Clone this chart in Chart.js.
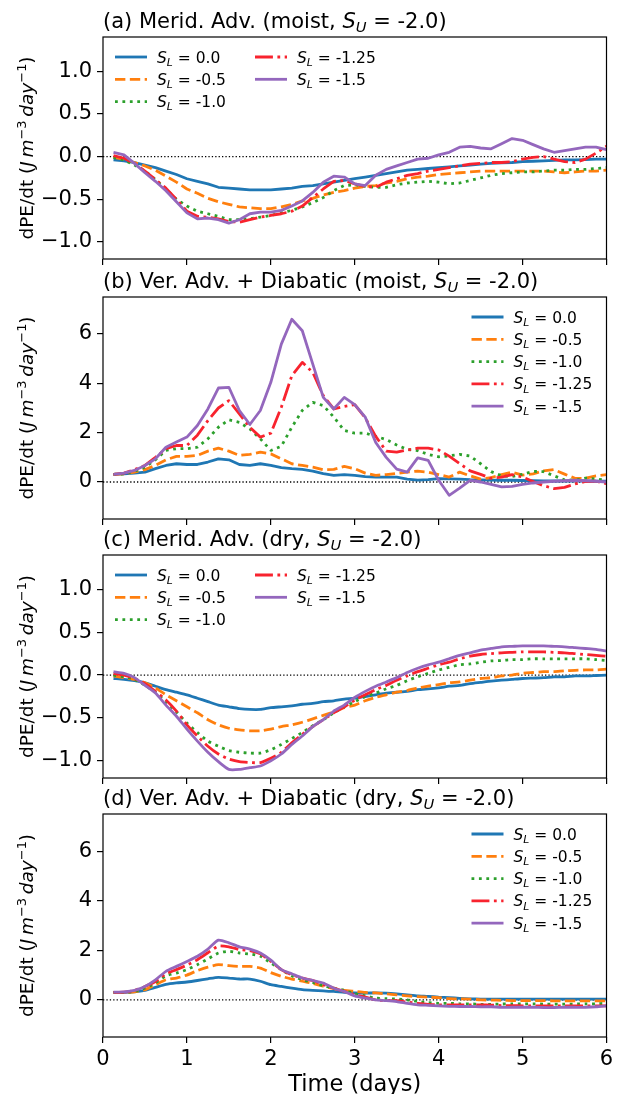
<!DOCTYPE html>
<html>
<head>
<meta charset="utf-8">
<script src="https://cdn.jsdelivr.net/npm/chart.js@4.4.1/dist/chart.umd.min.js"></script>
<style>
  html, body { margin: 0; padding: 0; background: #fff; }
  #fig { position: relative; width: 621px; height: 1094px; overflow: hidden; }
  #fig canvas { position: absolute; left: 0; }
</style>
</head>
<body>
<div id="fig"></div>
<script>
// time axis (days), 3-hourly output
const days = [0.125, 0.25, 0.375, 0.5, 0.625, 0.75, 0.875, 1, 1.125, 1.25, 1.375, 1.5, 1.625, 1.75, 1.875, 2,
  2.125, 2.25, 2.375, 2.5, 2.625, 2.75, 2.875, 3, 3.125, 3.25, 3.375, 3.5, 3.625, 3.75, 3.875, 4,
  4.125, 4.25, 4.375, 4.5, 4.625, 4.75, 4.875, 5, 5.125, 5.25, 5.375, 5.5, 5.625, 5.75, 5.875, 6];

const slLabels = ['0.0', '-0.5', '-1.0', '-1.25', '-1.5'];

const xTicks = [0, 1, 2, 3, 4, 5, 6];
const meridTicks = [-1.0, -0.5, 0.0, 0.5, 1.0];
const vertTicks = [0, 2, 4, 6];

// (a) meridional advection, moist
const meridMoist00 = [-0.04, -0.05, -0.07, -0.10, -0.13, -0.17, -0.21, -0.26, -0.29, -0.32, -0.36, -0.37, -0.38, -0.39, -0.39, -0.39,
  -0.38, -0.37, -0.35, -0.34, -0.32, -0.30, -0.28, -0.26, -0.24, -0.22, -0.20, -0.18, -0.16, -0.15, -0.14, -0.13,
  -0.12, -0.11, -0.10, -0.09, -0.08, -0.075, -0.07, -0.06, -0.055, -0.05, -0.045, -0.04, -0.04, -0.035, -0.03, -0.03];
const meridMoist05 = [-0.01, -0.03, -0.07, -0.11, -0.16, -0.23, -0.30, -0.38, -0.43, -0.49, -0.53, -0.56, -0.59, -0.60, -0.61, -0.61,
  -0.59, -0.56, -0.52, -0.49, -0.45, -0.42, -0.40, -0.37, -0.35, -0.34, -0.31, -0.29, -0.26, -0.24, -0.23, -0.21,
  -0.20, -0.19, -0.18, -0.17, -0.17, -0.17, -0.17, -0.17, -0.17, -0.17, -0.18, -0.19, -0.18, -0.17, -0.17, -0.16];
const meridMoist10 = [-0.01, -0.04, -0.10, -0.17, -0.27, -0.38, -0.50, -0.58, -0.64, -0.67, -0.70, -0.74, -0.74, -0.73, -0.71, -0.69,
  -0.66, -0.63, -0.59, -0.54, -0.48, -0.40, -0.34, -0.33, -0.35, -0.36, -0.36, -0.33, -0.31, -0.30, -0.29, -0.30,
  -0.32, -0.31, -0.28, -0.25, -0.22, -0.20, -0.19, -0.18, -0.18, -0.17, -0.16, -0.16, -0.15, -0.15, -0.14, -0.13];
const meridMoist125 = [0.01, -0.02, -0.08, -0.17, -0.27, -0.37, -0.50, -0.64, -0.70, -0.71, -0.73, -0.76, -0.77, -0.74, -0.71, -0.69,
  -0.67, -0.64, -0.58, -0.48, -0.38, -0.29, -0.28, -0.32, -0.35, -0.36, -0.30, -0.26, -0.22, -0.20, -0.17, -0.15,
  -0.13, -0.11, -0.09, -0.08, -0.07, -0.07, -0.06, -0.03, -0.01, 0.0, -0.03, -0.06, -0.07, -0.03, 0.04, 0.12];
const meridMoist15 = [0.05, 0.02, -0.08, -0.19, -0.29, -0.40, -0.53, -0.66, -0.73, -0.72, -0.74, -0.78, -0.74, -0.67, -0.65, -0.65,
  -0.63, -0.58, -0.52, -0.42, -0.30, -0.23, -0.24, -0.32, -0.34, -0.22, -0.15, -0.11, -0.07, -0.03, -0.02, 0.02,
  0.05, 0.11, 0.12, 0.10, 0.09, 0.15, 0.21, 0.19, 0.14, 0.09, 0.05, 0.07, 0.09, 0.11, 0.11, 0.08];

// (b) vertical advection + diabatic, moist
const vertMoist00 = [0.31, 0.33, 0.36, 0.40, 0.54, 0.67, 0.74, 0.71, 0.71, 0.81, 0.94, 0.90, 0.71, 0.67, 0.74, 0.67,
  0.58, 0.54, 0.51, 0.44, 0.34, 0.27, 0.30, 0.27, 0.22, 0.20, 0.20, 0.20, 0.12, 0.08, 0.10, 0.14,
  0.13, 0.12, 0.10, 0.09, 0.08, 0.07, 0.07, 0.06, 0.05, 0.04, 0.04, 0.04, 0.04, 0.04, 0.03, 0.03];
const vertMoist05 = [0.31, 0.33, 0.40, 0.50, 0.67, 0.90, 1.04, 1.04, 1.08, 1.25, 1.37, 1.25, 1.08, 1.12, 1.21, 1.14,
  0.94, 0.74, 0.67, 0.60, 0.50, 0.51, 0.63, 0.54, 0.36, 0.27, 0.30, 0.35, 0.40, 0.44, 0.40, 0.30,
  0.20, 0.40, 0.25, 0.12, 0.18, 0.30, 0.40, 0.28, 0.33, 0.45, 0.50, 0.32, 0.15, 0.15, 0.25, 0.30];
const vertMoist10 = [0.31, 0.33, 0.44, 0.60, 0.90, 1.28, 1.35, 1.35, 1.41, 1.75, 2.22, 2.52, 2.42, 2.15, 1.75, 1.28,
  1.45, 2.22, 2.90, 3.23, 3.10, 2.63, 2.09, 1.98, 1.98, 1.85, 1.72, 1.50, 1.32, 1.27, 1.12, 1.02,
  1.06, 1.12, 1.05, 0.74, 0.42, 0.25, 0.22, 0.31, 0.43, 0.42, 0.25, 0.09, 0.07, 0.16, 0.12, 0.07];
const vertMoist125 = [0.31, 0.36, 0.50, 0.67, 1.00, 1.35, 1.48, 1.48, 1.90, 2.49, 3.00, 3.30, 2.76, 2.22, 1.82, 1.98,
  3.03, 4.31, 4.85, 4.44, 3.50, 2.96, 3.06, 3.14, 2.60, 1.85, 1.25, 1.21, 1.30, 1.37, 1.37, 1.30,
  1.05, 0.75, 0.45, 0.31, 0.15, 0.20, 0.30, 0.20, 0.02, -0.15, -0.27, -0.22, -0.08, 0.02, 0.03, -0.07];
const vertMoist15 = [0.31, 0.36, 0.47, 0.67, 0.94, 1.41, 1.62, 1.82, 2.29, 2.96, 3.81, 3.84, 2.90, 2.33, 2.90, 4.04,
  5.59, 6.60, 6.13, 4.78, 3.43, 2.96, 3.43, 3.14, 2.63, 1.60, 1.00, 0.52, 0.40, 0.98, 0.88, 0.07,
  -0.54, -0.25, 0.07, 0.0, -0.10, -0.20, -0.18, -0.10, -0.04, 0.0, 0.03, 0.05, 0.07, 0.05, 0.03, 0.0];

// (c) meridional advection, dry
const meridDry00 = [-0.04, -0.05, -0.065, -0.09, -0.13, -0.17, -0.20, -0.23, -0.27, -0.31, -0.35, -0.37, -0.39, -0.40, -0.40, -0.38,
  -0.37, -0.36, -0.34, -0.33, -0.31, -0.30, -0.28, -0.27, -0.25, -0.23, -0.21, -0.20, -0.19, -0.17, -0.16, -0.15,
  -0.13, -0.12, -0.10, -0.085, -0.07, -0.06, -0.05, -0.04, -0.035, -0.03, -0.02, -0.02, -0.01, -0.01, -0.005, 0.0];
const meridDry05 = [-0.01, -0.03, -0.05, -0.09, -0.15, -0.23, -0.30, -0.37, -0.44, -0.52, -0.58, -0.62, -0.64, -0.65, -0.65, -0.63,
  -0.60, -0.58, -0.55, -0.51, -0.47, -0.43, -0.38, -0.35, -0.30, -0.26, -0.23, -0.20, -0.18, -0.15, -0.13, -0.11,
  -0.09, -0.08, -0.06, -0.04, -0.03, -0.01, 0.0, 0.02, 0.03, 0.04, 0.04, 0.05, 0.055, 0.06, 0.06, 0.07];
const meridDry10 = [0.0, -0.02, -0.05, -0.12, -0.20, -0.31, -0.43, -0.56, -0.67, -0.77, -0.83, -0.88, -0.90, -0.91, -0.91, -0.87,
  -0.81, -0.74, -0.67, -0.59, -0.52, -0.44, -0.37, -0.31, -0.25, -0.21, -0.16, -0.12, -0.065, -0.02, 0.02, 0.06,
  0.09, 0.12, 0.13, 0.15, 0.165, 0.17, 0.18, 0.18, 0.19, 0.19, 0.19, 0.19, 0.19, 0.19, 0.18, 0.17];
const meridDry125 = [0.02, 0.0, -0.04, -0.10, -0.19, -0.29, -0.42, -0.58, -0.71, -0.83, -0.92, -0.98, -1.01, -1.02, -1.02, -0.97,
  -0.90, -0.79, -0.69, -0.60, -0.52, -0.44, -0.37, -0.29, -0.23, -0.17, -0.12, -0.06, -0.01, 0.04, 0.08, 0.12,
  0.15, 0.19, 0.22, 0.24, 0.25, 0.26, 0.265, 0.27, 0.27, 0.27, 0.265, 0.26, 0.25, 0.24, 0.23, 0.22];
const meridDry15 = [0.04, 0.02, -0.03, -0.12, -0.21, -0.35, -0.48, -0.63, -0.77, -0.90, -1.01, -1.10, -1.10, -1.08, -1.06, -1.00,
  -0.92, -0.81, -0.71, -0.60, -0.52, -0.42, -0.35, -0.26, -0.19, -0.13, -0.08, -0.03, 0.03, 0.08, 0.12, 0.15,
  0.19, 0.23, 0.26, 0.29, 0.31, 0.33, 0.335, 0.34, 0.34, 0.34, 0.335, 0.33, 0.32, 0.31, 0.30, 0.28];

// (d) vertical advection + diabatic, dry
const vertDry00 = [0.30, 0.30, 0.32, 0.38, 0.50, 0.62, 0.68, 0.72, 0.78, 0.85, 0.91, 0.88, 0.84, 0.84, 0.75, 0.61,
  0.54, 0.47, 0.41, 0.38, 0.36, 0.34, 0.30, 0.28, 0.27, 0.28, 0.27, 0.24, 0.20, 0.16, 0.14, 0.11,
  0.09, 0.06, 0.04, 0.03, 0.03, 0.03, 0.03, 0.03, 0.03, 0.03, 0.03, 0.03, 0.03, 0.03, 0.03, 0.03];
const vertDry05 = [0.30, 0.30, 0.32, 0.41, 0.61, 0.81, 0.88, 1.00, 1.18, 1.32, 1.42, 1.38, 1.35, 1.35, 1.28, 1.10,
  0.95, 0.84, 0.75, 0.66, 0.55, 0.45, 0.38, 0.34, 0.30, 0.28, 0.24, 0.20, 0.16, 0.13, 0.11, 0.09,
  0.05, 0.04, 0.03, 0.0, -0.01, -0.02, -0.03, -0.03, -0.03, -0.03, -0.04, -0.04, -0.04, -0.04, -0.04, -0.04];
const vertDry10 = [0.30, 0.30, 0.34, 0.47, 0.68, 0.97, 1.08, 1.22, 1.42, 1.65, 1.89, 1.96, 1.89, 1.85, 1.76, 1.49,
  1.22, 0.97, 0.81, 0.70, 0.57, 0.47, 0.38, 0.24, 0.16, 0.07, 0.05, 0.03, 0.0, -0.07, -0.11, -0.14,
  -0.14, -0.16, -0.16, -0.18, -0.18, -0.17, -0.16, -0.16, -0.16, -0.17, -0.17, -0.17, -0.17, -0.16, -0.16, -0.14];
const vertDry125 = [0.30, 0.31, 0.38, 0.54, 0.74, 1.05, 1.22, 1.40, 1.62, 1.90, 2.17, 2.14, 2.03, 1.99, 1.86, 1.55,
  1.22, 1.01, 0.88, 0.78, 0.61, 0.47, 0.34, 0.20, 0.11, 0.0, -0.03, -0.03, -0.09, -0.14, -0.18, -0.20,
  -0.20, -0.20, -0.20, -0.20, -0.21, -0.23, -0.23, -0.24, -0.24, -0.24, -0.24, -0.24, -0.24, -0.24, -0.24, -0.24];
const vertDry15 = [0.31, 0.32, 0.38, 0.54, 0.81, 1.15, 1.35, 1.55, 1.76, 2.05, 2.41, 2.30, 2.14, 2.05, 1.89, 1.60,
  1.22, 1.05, 0.88, 0.78, 0.68, 0.47, 0.34, 0.16, 0.07, 0.0, -0.03, -0.07, -0.14, -0.20, -0.22, -0.24,
  -0.26, -0.27, -0.27, -0.28, -0.28, -0.30, -0.30, -0.30, -0.30, -0.31, -0.31, -0.30, -0.30, -0.30, -0.28, -0.24];

const FONT = '"DejaVu Sans", sans-serif';
const LW = 2.8;
const lineStyles = [
  { color: '#1f77b4', dash: [] },
  { color: '#ff7f0e', dash: [3.7 * LW, 1.6 * LW] },
  { color: '#2ca02c', dash: [1 * LW, 1.65 * LW] },
  { color: '#f8232e', dash: [6.4 * LW, 1.6 * LW, 1 * LW, 1.6 * LW] },
  { color: '#9467bd', dash: [] },
];

const S = sub => [{ t: 'S', it: 1 }, { t: sub, it: 1, sub: 1 }];
const yLabel = [{ t: 'dPE/dt (' }, { t: 'J', it: 1 }, { t: '\u2009' }, { t: 'm', it: 1 }, { t: '\u22123', sup: 1 },
  { t: '\u2009' }, { t: 'day', it: 1 }, { t: '\u22121', sup: 1 }, { t: ')' }];

// measure and draw a run of text pieces with italics and sub/superscripts
function drawRich(ctx, parts, x, y, size, align) {
  const runs = parts.map(p => {
    const s = (p.sub || p.sup) ? size * 0.7 : size;
    const font = `${p.it ? 'italic ' : ''}${s}px ${FONT}`;
    ctx.font = font;
    return { ...p, font, w: ctx.measureText(p.t).width };
  });
  const total = runs.reduce((a, r) => a + r.w, 0);
  let cx = align === 'center' ? x - total / 2 : x;
  ctx.textAlign = 'left';
  ctx.textBaseline = 'alphabetic';
  runs.forEach(r => {
    ctx.font = r.font;
    const dy = r.sub ? size * 0.2 : r.sup ? -size * 0.4 : 0;
    ctx.fillText(r.t, cx, y + dy);
    cx += r.w;
  });
}

const panelDeco = {
  id: 'panelDeco',
  beforeDatasetsDraw(chart) {
    const { ctx, chartArea: a, scales } = chart;
    const y0 = scales.y.getPixelForValue(0);
    ctx.save();
    ctx.strokeStyle = '#000';
    ctx.lineWidth = 1.3;
    ctx.setLineDash([1.3, 2.1]);
    ctx.beginPath();
    ctx.moveTo(a.left, y0);
    ctx.lineTo(a.right, y0);
    ctx.stroke();
    ctx.restore();
  },
  afterDraw(chart) {
    const { ctx, chartArea: a } = chart;
    const o = chart.options.plugins.panelDeco;
    ctx.save();
    ctx.fillStyle = '#000';

    // frame
    ctx.strokeStyle = '#000';
    ctx.lineWidth = 1.2;
    ctx.setLineDash([]);
    ctx.strokeRect(a.left, a.top, a.right - a.left, a.bottom - a.top);

    // panel title
    drawRich(ctx, o.title, a.left, a.top - 9.5, 21, 'left');

    // y label, rotated
    ctx.save();
    ctx.translate(33, (a.top + a.bottom) / 2);
    ctx.rotate(-Math.PI / 2);
    drawRich(ctx, yLabel, 0, 0, 18.5, 'center');
    ctx.restore();

    // x label on the bottom panel
    if (o.xLabel) {
      ctx.font = `22.5px ${FONT}`;
      ctx.textAlign = 'center';
      ctx.textBaseline = 'alphabetic';
      ctx.fillText(o.xLabel, (a.left + a.right) / 2, chart.height - 3.5);
    }

    // legend
    const lg = o.legend;
    chart.data.datasets.forEach((ds, i) => {
      const col = Math.floor(i / lg.rows);
      const row = i % lg.rows;
      const x0 = (lg.right ? a.right : a.left) + lg.cols[col];
      const yy = a.top + 20 + row * 22.3;
      ctx.strokeStyle = ds.borderColor;
      ctx.lineWidth = LW;
      ctx.lineCap = 'butt';
      ctx.setLineDash(ds.borderDash);
      ctx.beginPath();
      ctx.moveTo(x0, yy);
      ctx.lineTo(x0 + 32, yy);
      ctx.stroke();
      ctx.setLineDash([]);
      ctx.fillStyle = '#000';
      drawRich(ctx, [...S('L'), { t: ' = ' + slLabels[i] }], x0 + 42, yy + 5.5, 15.5, 'left');
    });
    ctx.restore();
  }
};

const fmtMinus = v => String(v).replace('-', '\u2212');

const panels = [
  {
    top: 0, height: 267, padTop: 37, axisH: 8,
    title: [{ t: '(a) Merid. Adv. (moist, ' }, ...S('U'), { t: ' = -2.0)' }],
    series: [meridMoist00, meridMoist05, meridMoist10, meridMoist125, meridMoist15],
    yMin: -1.2, yMax: 1.4, yTicks: meridTicks, fmt: v => fmtMinus(v.toFixed(1)),
    legend: { rows: 3, cols: [12, 152], right: false }, tension: 0,
  },
  {
    top: 267, height: 260, padTop: 30, axisH: 8,
    title: [{ t: '(b) Ver. Adv. + Diabatic (moist, ' }, ...S('U'), { t: ' = -2.0)' }],
    series: [vertMoist00, vertMoist05, vertMoist10, vertMoist125, vertMoist15],
    yMin: -1.5, yMax: 7.5, yTicks: vertTicks, fmt: v => String(v),
    legend: { rows: 5, cols: [-135], right: true }, tension: 0,
  },
  {
    top: 527, height: 259, padTop: 28, axisH: 8,
    title: [{ t: '(c) Merid. Adv. (dry, ' }, ...S('U'), { t: ' = -2.0)' }],
    series: [meridDry00, meridDry05, meridDry10, meridDry125, meridDry15],
    yMin: -1.2, yMax: 1.4, yTicks: meridTicks, fmt: v => fmtMinus(v.toFixed(1)),
    legend: { rows: 3, cols: [12, 152], right: false }, tension: 0.2,
  },
  {
    top: 786, height: 308, padTop: 28, axisH: 57,
    title: [{ t: '(d) Ver. Adv. + Diabatic (dry, ' }, ...S('U'), { t: ' = -2.0)' }],
    series: [vertDry00, vertDry05, vertDry10, vertDry125, vertDry15],
    yMin: -1.5, yMax: 7.5, yTicks: vertTicks, fmt: v => String(v),
    legend: { rows: 5, cols: [-135], right: true }, tension: 0.2,
    xLabel: 'Time (days)', showX: true,
  },
];

const fig = document.getElementById('fig');

panels.forEach(p => {
  const cv = document.createElement('canvas');
  cv.width = 621;
  cv.height = p.height;
  cv.style.top = p.top + 'px';
  cv.style.width = '621px';
  cv.style.height = p.height + 'px';
  fig.append(cv);

  const datasets = p.series.map((vals, i) => ({
    label: 'S_L = ' + slLabels[i],
    data: vals.map((v, k) => ({ x: days[k], y: v })),
    borderColor: lineStyles[i].color,
    borderDash: lineStyles[i].dash,
    borderWidth: LW,
    borderCapStyle: 'butt',
    borderJoinStyle: 'round',
    pointRadius: 0,
    fill: false,
    tension: p.tension,
    order: p.series.length - i,
  }));

  new Chart(cv, {
    type: 'line',
    data: { datasets },
    plugins: [panelDeco],
    options: {
      responsive: false,
      animation: false,
      devicePixelRatio: 1,
      layout: { padding: { top: p.padTop, right: 14.5, bottom: 0, left: 0 } },
      plugins: {
        legend: { display: false },
        tooltip: { enabled: false },
        panelDeco: { title: p.title, legend: p.legend, xLabel: p.xLabel },
      },
      scales: {
        x: {
          type: 'linear', min: 0, max: 6,
          afterBuildTicks: s => { s.ticks = xTicks.map(v => ({ value: v })); },
          afterFit: s => { s.height = p.axisH; s.paddingLeft = 0; s.paddingRight = 0; },
          border: { display: false },
          grid: { drawOnChartArea: false, drawTicks: true, tickLength: 6, color: '#000', lineWidth: 1.2 },
          ticks: {
            display: !!p.showX, padding: 4, color: '#000',
            font: { family: FONT, size: 21 }, maxRotation: 0,
            callback: v => String(v),
          },
        },
        y: {
          type: 'linear', min: p.yMin, max: p.yMax,
          afterBuildTicks: s => { s.ticks = p.yTicks.map(v => ({ value: v })); },
          afterFit: s => { s.width = 103; s.paddingTop = 0; s.paddingBottom = 0; },
          border: { display: false },
          grid: { drawOnChartArea: false, drawTicks: true, tickLength: 6, color: '#000', lineWidth: 1.2 },
          ticks: {
            padding: 5, color: '#000',
            font: { family: FONT, size: 21 },
            callback: v => p.fmt(v),
          },
        },
      },
    },
  });
});
</script>
</body>
</html>
